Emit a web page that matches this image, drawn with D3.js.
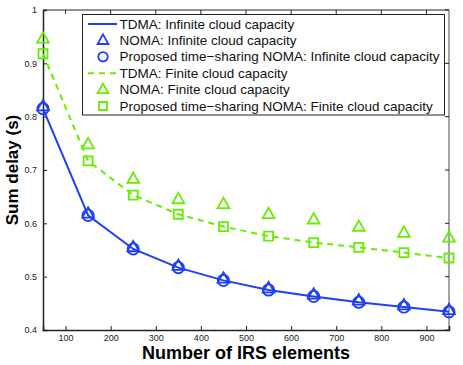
<!DOCTYPE html>
<html lang="en">
<head>
<meta charset="UTF-8">
<title>Sum delay vs IRS elements</title>
<script src="https://d3js.org/d3.v7.min.js"></script>
<style>
  body { margin: 0; background: #fff; }
  text { font-family: "Liberation Sans", Arial, sans-serif; }
</style>
</head>
<body>
<div id="chart"></div>
<script>

// data
const irsElements = [50, 150, 250, 350, 450, 550, 650, 750, 850, 950];
const tdmaInfinite = [0.815, 0.615, 0.552, 0.517, 0.493, 0.475, 0.463, 0.452, 0.443, 0.434];
const nomaInfinite = [0.819, 0.618, 0.555, 0.520, 0.496, 0.478, 0.466, 0.455, 0.446, 0.437];
const tsNomaInfinite = [0.815, 0.615, 0.552, 0.517, 0.493, 0.475, 0.463, 0.452, 0.443, 0.434];
const tdmaFinite = [0.918, 0.717, 0.653, 0.617, 0.594, 0.576, 0.564, 0.555, 0.545, 0.535];
const nomaFinite = [0.946, 0.748, 0.683, 0.645, 0.636, 0.617, 0.607, 0.593, 0.582, 0.573];
const tsNomaFinite = [0.918, 0.717, 0.653, 0.617, 0.594, 0.576, 0.564, 0.555, 0.545, 0.535];
const xTicks = [100, 200, 300, 400, 500, 600, 700, 800, 900];
const yTicks = [0.4, 0.5, 0.6, 0.7, 0.8, 0.9, 1];
const legendLabels = [
  "TDMA: Infinite cloud capacity",
  "NOMA: Infinite cloud capacity",
  "Proposed time\u2212sharing NOMA: Infinite cloud capacity",
  "TDMA: Finite cloud capacity",
  "NOMA: Finite cloud capacity",
  "Proposed time\u2212sharing NOMA: Finite cloud capacity"
];

const blue = "#1f3ff2";
const green = "#66ee00";

const width = 463, height = 365;
const mLeft = 43, mRight = 449, mTop = 10, mBottom = 330;

const svg = d3.select("#chart").append("svg")
  .attr("width", width)
  .attr("height", height);

const x = d3.scaleLinear().domain([50, 950]).range([mLeft, mRight]);
const y = d3.scaleLinear().domain([0.4, 1]).range([mBottom, mTop]);

// axes box
const axisCol = "#222";
svg.append("line").attr("x1", mLeft).attr("x2", mRight).attr("y1", mTop).attr("y2", mTop).attr("stroke", axisCol);
svg.append("line").attr("x1", mRight).attr("x2", mRight).attr("y1", mTop).attr("y2", mBottom).attr("stroke", "#888").attr("stroke-width", 1.5);

const xAxis = svg.append("g").attr("transform", `translate(0,${mBottom})`)
  .call(d3.axisBottom(x).tickValues(xTicks).tickSize(-4).tickPadding(5).tickFormat(d3.format("d")));
const yAxis = svg.append("g").attr("transform", `translate(${mLeft},0)`)
  .call(d3.axisLeft(y).tickValues(yTicks).tickSize(-4).tickPadding(6).tickFormat(d => d === 1 ? "1" : d3.format(".1f")(d)));
[xAxis, yAxis].forEach(g => {
  g.select(".domain").attr("stroke", axisCol).attr("stroke-width", 1.5);
  g.selectAll(".tick line").attr("stroke", axisCol);
  g.selectAll(".tick text").attr("fill", "#222").style("font-size", "9px");
});
// mirrored ticks on top and right
svg.append("g").selectAll("line").data(xTicks).join("line")
  .attr("x1", d => x(d)).attr("x2", d => x(d)).attr("y1", mTop).attr("y2", mTop + 4).attr("stroke", axisCol);
svg.append("g").selectAll("line").data(yTicks).join("line")
  .attr("x1", mRight).attr("x2", mRight - 4).attr("y1", d => y(d)).attr("y2", d => y(d)).attr("stroke", axisCol);

// lines
const line = d3.line().x((d, i) => x(irsElements[i])).y(d => y(d));
svg.append("path").datum(tdmaInfinite).attr("d", line)
  .attr("fill", "none").attr("stroke", blue).attr("stroke-width", 2);
svg.append("path").datum(tdmaFinite).attr("d", line)
  .attr("fill", "none").attr("stroke", green).attr("stroke-width", 2).attr("stroke-dasharray", "6,5");

// markers
const triPath = s => `M0,${-s}L${s * 0.9},${s * 0.6}L${-s * 0.9},${s * 0.6}Z`;
function drawMarkers(vals, type, col) {
  const g = svg.append("g");
  const sel = g.selectAll("path").data(vals).join("path")
    .attr("transform", (d, i) => `translate(${x(irsElements[i])},${y(d)})`)
    .attr("fill", "none").attr("stroke", col).attr("stroke-width", 1.8);
  if (type === "tri") sel.attr("d", triPath(6.5));
  if (type === "circle") sel.attr("d", d3.symbol(d3.symbolCircle, 100)());
  if (type === "square") sel.attr("d", "M-4.5,-4.5H4.5V4.5H-4.5Z");
}
drawMarkers(nomaInfinite, "tri", blue);
drawMarkers(tsNomaInfinite, "circle", blue);
drawMarkers(nomaFinite, "tri", green);
drawMarkers(tsNomaFinite, "square", green);

// legend
const lg = svg.append("g");
lg.append("rect").attr("x", 82.5).attr("y", 14.5).attr("width", 362).attr("height", 100.5)
  .attr("fill", "#fff").attr("stroke", "#222");
const legendStyles = [
  { col: blue, line: "solid" }, { col: blue, mark: "tri" }, { col: blue, mark: "circle" },
  { col: green, line: "dash" }, { col: green, mark: "tri" }, { col: green, mark: "square" }
];
legendLabels.forEach((lab, i) => {
  const yy = 24 + i * 16.4;
  const st = legendStyles[i];
  if (st.line) {
    lg.append("line").attr("x1", 88).attr("x2", 117).attr("y1", yy).attr("y2", yy)
      .attr("stroke", st.col).attr("stroke-width", 2)
      .attr("stroke-dasharray", st.line === "dash" ? "6,5" : null);
  } else {
    const p = lg.append("path").attr("transform", `translate(103,${yy})`)
      .attr("fill", "none").attr("stroke", st.col).attr("stroke-width", 1.8);
    if (st.mark === "tri") p.attr("d", triPath(6));
    if (st.mark === "circle") p.attr("d", d3.symbol(d3.symbolCircle, 70)());
    if (st.mark === "square") p.attr("d", "M-4,-4H4V4H-4Z");
  }
  lg.append("text").attr("x", 119.5).attr("y", yy + 4.6).attr("fill", "#111")
    .style("font-size", "13.5px").text(lab);
});

// axis labels
svg.append("text").attr("x", 246).attr("y", 359).attr("text-anchor", "middle")
  .style("font-size", "18px").style("font-weight", "bold").text("Number of IRS elements");
svg.append("text").attr("transform", "translate(18,170) rotate(-90)").attr("text-anchor", "middle")
  .style("font-size", "17px").style("font-weight", "bold").text("Sum delay (s)");

</script>
</body>
</html>
